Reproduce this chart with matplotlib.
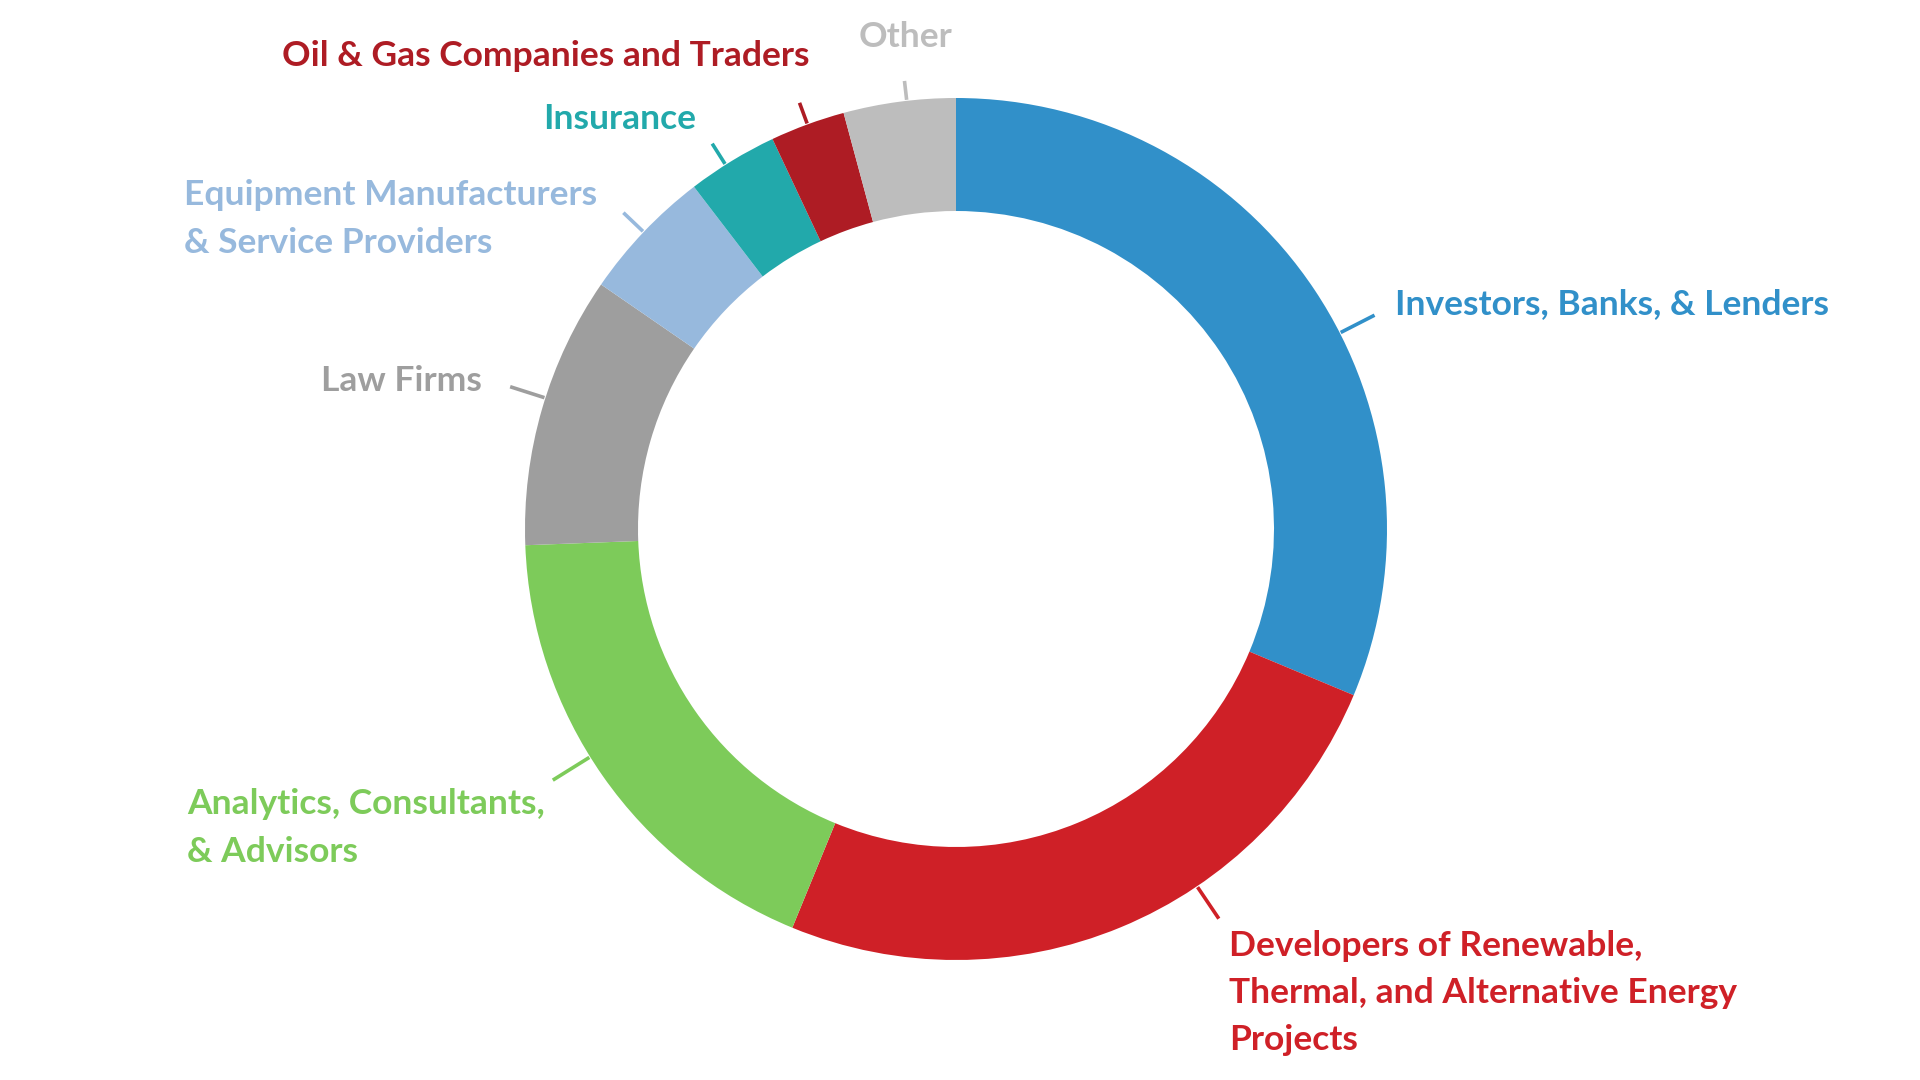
import numpy as np
import matplotlib.pyplot as plt

labels = ['Investors, Banks, & Lenders',
          'Developers of Renewable,\nThermal, and Alternative Energy\nProjects',
          'Analytics, Consultants,\n& Advisors',
          'Law Firms',
          'Equipment Manufacturers\n& Service Providers',
          'Insurance',
          'Oil & Gas Companies and Traders',
          'Other']
shares = [31.3, 24.9, 18.2, 10.2, 5.0, 3.4, 2.8, 4.2]
colors = ['#3190C9', '#CF2027', '#7DCB5A', '#9E9E9E',
          '#97B9DD', '#22A9AB', '#AE1C24', '#BDBDBD']

# label layout (pixels, y from top) and leader tweaks
label_xy = [(1395, 304), (1229, 993), (187, 828), (482, 381),
            (184, 219), (696, 119), (809, 56), (906, 37)]
label_ha = ['left', 'left', 'left', 'right', 'left', 'right', 'right', 'center']
leader_len = [39, 39, 44, 37, 28, 25, 23, 20]
leader_nudge = [-6.6, 11.5, -3, -1.5, 0, 1, 0, -1]

W, H = 1920, 1080
cx, cy = 956, H - 529
R, ring = 431, 113

fig = plt.figure(figsize=(19.2, 10.8), dpi=100)
ax = fig.add_axes([0, 0, 1, 1])

wedges, _ = ax.pie(shares, colors=colors, startangle=90, counterclock=False,
                   center=(cx, cy), radius=R, frame=True,
                   wedgeprops=dict(width=ring, linewidth=0))
ax.set_xlim(0, W)
ax.set_ylim(0, H)
ax.set_aspect('equal')
ax.axis('off')

for i, w in enumerate(wedges):
    ang = np.deg2rad((w.theta1 + w.theta2) / 2 + leader_nudge[i])
    r0, r1 = R + 1, R + leader_len[i]
    ax.plot([cx + r0 * np.cos(ang), cx + r1 * np.cos(ang)],
            [cy + r0 * np.sin(ang), cy + r1 * np.sin(ang)],
            color=colors[i], lw=2.6, solid_capstyle='butt')
    x, y = label_xy[i]
    ax.text(x, H - y, labels[i], color=colors[i], ha=label_ha[i], va='center',
            fontsize=25.5, fontweight='bold', family=['Lato', 'DejaVu Sans'],
            linespacing=1.58)

fig.savefig('out.png', dpi=100, facecolor='white')
